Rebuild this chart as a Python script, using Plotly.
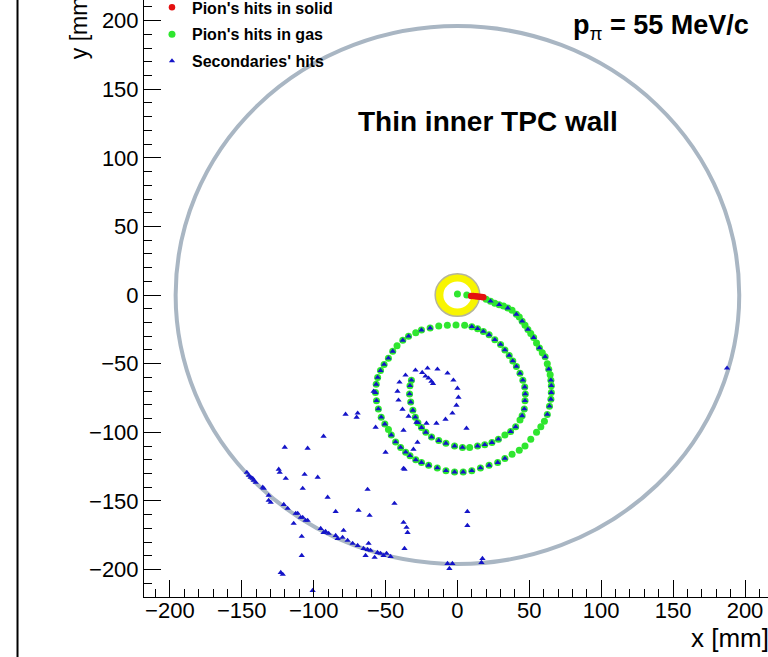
import plotly.graph_objects as go

# ---------------- data (mm) ----------------
# Pion's hits in solid (red)
solid_x = [9.5, 11.0, 12.5, 14.0, 15.5, 17.0, 18.0]
solid_y = [-0.6, -0.7, -0.8, -1.0, -1.2, -1.4, -1.6]

# Pion's hits in gas (green): vertex hit, then the spiralling track
gas_x = [0.0, 6.5,
         20, 23, 26, 29, 32, 35, 38, 41, 43, 45, 47, 49, 51, 53, 55, 57, 59, 61,
         62.5, 63.5, 64.5, 65, 65.3, 65.3, 65, 64, 62.5, 60.5, 58, 55, 51, 47, 43,
         38, 33, 28, 22, 16, 10, 4, -2, -8, -14, -20, -25, -29, -33, -36, -39.5,
         -43, -46, -48, -50.5, -53, -55, -56.3, -57, -56.5, -55.5, -53.5, -51, -48,
         -45, -42, -38, -34, -29, -25, -19, -13, -7, -1,
         5, 10, 14, 18, 22, 26, 30, 33, 36, 38.5, 41, 43.5, 45.5, 46.8, 47.2, 47,
         46.5, 45, 43.5, 40.5, 37, 33, 28.5, 24, 19, 14, 8.5, 3.5, -2, -8, -13,
         -18, -22, -25, -27.5, -29.3, -31, -32.5, -33.3, -33, -32]
gas_y = [0.7, 0.0,
         -3, -4.5, -6, -7, -8, -9.5, -11, -14, -16, -19, -22, -25, -28, -31, -35,
         -38.5, -42, -45,
         -50, -54, -58, -62, -66, -71, -76, -81, -87, -92, -96, -100, -105, -110,
         -113, -116, -119, -122, -124, -126, -128, -129, -129, -128, -126, -124,
         -122, -120, -117, -114.5, -111,
         -107, -102, -98, -94, -89, -83, -77, -71, -65, -60, -55, -50.5, -46,
         -41, -37, -33, -30, -27.5, -25.5, -24, -22.6, -22, -21.9,
         -22, -23, -24.5, -26.5, -29, -32.5, -36, -40, -44, -48, -52, -57, -62,
         -67, -72, -77,
         -83, -88, -91, -96, -99.5, -102, -105, -107.5, -109, -110, -111, -111,
         -110, -108, -106,
         -103.5, -100, -96.5, -93, -89, -84, -78, -72, -66, -62]

# Secondaries' hits (blue) lying on the pion track
sec_track_x = [23, 29, 35, 41, 45, 49, 53, 57, 61, 63.5, 65, 65.3, 65.3, 65, 64,
               62.5, 33, 28, 22, 16, 10, 4, -2, -8, -14, -20, -25, -29, -33, -36,
               -39.5, -43, -46, -50.5, -53, -55, -56.3, -57, -56.5, -55.5, -53.5,
               -51, -48, -45, -38, -34, -25, -19,
               10, 14, 18, 22, 26, 30, 33, 36, 38.5, 41, 43.5, 45.5, 46.8, 47.2, 47,
               46.5, 45, 40.5, 37, 28.5, 24, 19, 14, 3.5, -2, -8, -13, -18, -22,
               -25, -27.5, -29.3, -31, -32.5, -33.3, -33, -32]
sec_track_y = [-4.5, -7, -9.5, -14, -19, -25, -31, -38.5, -45, -54, -62, -66, -71,
               -76, -81, -87, -119, -122, -124, -126, -128, -129, -129, -128,
               -126, -124, -122, -120, -117, -114.5, -111, -107, -102, -94, -89,
               -83, -77, -71, -65, -60, -55, -50.5, -46, -41, -33, -30, -25.5, -24,
               -23, -24.5, -26.5, -29, -32.5, -36, -40, -44, -48, -52, -57, -62,
               -67, -72, -77, -83, -88, -96, -99.5, -105, -107.5, -109, -110,
               -111, -110, -108, -106, -103.5, -100, -96.5, -93, -89, -84, -78,
               -72, -66, -62]

# Secondaries' hits: small curling loop
sec_loop_x = [-20.8, -13.9, -6.9, -2.8, 0.0, 0.7, -0.7, -3.5, -8.3, -14.6, -21.5,
              -28.5, -34.0, -38.2, -41.0, -41.7, -40.3, -36.1, -29.2, -22.2,
              -20.1, -18.1, -17.0, -24.5]
sec_loop_y = [-53.3, -54.0, -56.9, -62.0, -67.9, -74.5, -80.3, -86.1, -90.5,
              -93.4, -93.4, -92.7, -88.3, -83.2, -76.6, -70.1, -63.5, -58.4,
              -54.7, -59.1, -60.6, -62.8, -64.5, -56.5]

# Secondaries' hits: scattered and along the outer wall
sec_scat_x = [-77.8, -69.4, -70.1, -58.3, -56.9, -37.5, -27.8, -50.0, -30.6, -36.8,
              -93.1, -120.1, -104.2, -124.3, -123.6, -119.4, -106.3, -97.2, -107.6,
              -62.5, -90.3, -84.7, -68.8, -61.1, -43.8, -37.5, -35.4, -34.7, -113.9,
              -108.3, -108.3, -122.9, -121.5, -36.8, -61.8, -100.7, 6.9, 6.9, -6.9,
              -3.5, -5.6, 16.7, 17.4, 187.5, 6.3, -37.5,
              -146.5, -145.1, -143.8, -142.4, -141.7, -140.3, -135.4, -134.7, -131.3,
              -131.3, -129.9, -120.8, -118.1, -112.5, -111.1, -109.0, -107.6, -105.6,
              -104.2, -95.1, -93.1, -91.7, -89.6, -84.7, -83.3, -79.2, -79.9, -76.4,
              -72.9, -69.4, -65.3, -63.9, -60.4, -57.6, -55.6, -51.4, -46.5, -53.5,
              -49.3, -62.5]
sec_scat_y = [-86.9, -86.1, -89.1, -70.1, -96.4, -98.5, -107.3, -114.6, -112.4,
              -127.0, -102.9, -110.9, -111.7, -127.0, -129.2, -133.6, -130.7, -132.8,
              -140.9, -141.6, -147.4, -157.7, -156.9, -160.6, -151.8, -165.7, -169.3,
              -173.0, -166.4, -175.9, -189.8, -202.2, -203.6, -184.7, -181.0, -215.3,
              -157.7, -167.9, -195.6, -195.6, -199.3, -194.9, -192.0, -53.3, -97.1,
              -126.3,
              -129.2, -131.4, -132.8, -133.6, -135.0, -136.5, -140.1, -140.9, -146.0,
              -149.6, -151.1, -152.6, -155.5, -159.1, -159.1, -162.0, -162.0, -164.2,
              -164.2, -170.1, -173.0, -172.3, -173.7, -175.2, -177.4, -171.5, -176.6,
              -178.8, -181.0, -182.5, -184.7, -189.8, -186.1, -191.2, -187.6, -189.8,
              -190.5, -188.3, -188.3, -185.4]

# detector geometry (mm)
tpc_wall_radius = 196
target_outer_radius = 15.5
target_inner_radius = 9.8

x_range = [-218, 216]
y_range = [-220, 215]
tick_vals = [-200, -150, -100, -50, 0, 50, 100, 150, 200]

FONT = "Liberation Sans, Arial, Helvetica, sans-serif"
GREEN = "#2fe62f"
BLUE = "#1414c8"
RED = "#e41010"

fig = go.Figure()

fig.add_trace(go.Scatter(x=gas_x, y=gas_y, mode="markers", name="Pion's hits in gas",
                         marker=dict(color=GREEN, size=7, symbol="circle"),
                         legendgroup="g", legendrank=2))
fig.add_trace(go.Scatter(x=solid_x, y=solid_y, mode="markers", name="Pion's hits in solid",
                         marker=dict(color=RED, size=6.5, symbol="circle"),
                         legendgroup="r", legendrank=1))
fig.add_trace(go.Scatter(x=sec_track_x, y=sec_track_y, mode="markers", showlegend=False,
                         marker=dict(color=BLUE, size=5.5, symbol="triangle-up"),
                         legendgroup="b"))
fig.add_trace(go.Scatter(x=sec_loop_x, y=sec_loop_y, mode="markers", showlegend=False,
                         marker=dict(color=BLUE, size=5.5, symbol="triangle-up"),
                         legendgroup="b"))
fig.add_trace(go.Scatter(x=sec_scat_x, y=sec_scat_y, mode="markers", name="Secondaries' hits",
                         marker=dict(color=BLUE, size=5.5, symbol="triangle-up"),
                         legendgroup="b", legendrank=3))

# TPC inner wall
fig.add_shape(type="circle", xref="x", yref="y", layer="below",
              x0=-tpc_wall_radius, x1=tpc_wall_radius, y0=-tpc_wall_radius, y1=tpc_wall_radius,
              line=dict(color="#a9b6c3", width=4))
# target
fig.add_shape(type="circle", xref="x", yref="y", layer="below",
              x0=-target_outer_radius, x1=target_outer_radius,
              y0=-target_outer_radius, y1=target_outer_radius,
              line=dict(color="#b5b59a", width=1.5), fillcolor="#f8f500")
fig.add_shape(type="circle", xref="x", yref="y", layer="below",
              x0=-target_inner_radius, x1=target_inner_radius,
              y0=-target_inner_radius, y1=target_inner_radius,
              line=dict(color="white", width=0), fillcolor="white")
# canvas border line on the left
fig.add_shape(type="line", xref="paper", yref="paper", x0=-0.2027, x1=-0.2027,
              y0=-0.12, y1=1.02, line=dict(color="black", width=2))

axis_common = dict(showline=True, linecolor="black", linewidth=1, mirror=False,
                   ticks="inside", ticklen=17, tickwidth=1, tickcolor="black",
                   tickvals=tick_vals, showgrid=False, zeroline=False,
                   tickfont=dict(family=FONT, size=22, color="black"),
                   minor=dict(ticks="inside", ticklen=8, dtick=10, tick0=0,
                              tickcolor="black", tickwidth=1, showgrid=False))

fig.update_xaxes(range=x_range, ticklabelstandoff=-6, **axis_common)
fig.update_yaxes(range=y_range, **axis_common)

fig.add_annotation(xref="paper", yref="paper", x=0.8735, y=-0.068, xanchor="left",
                   yanchor="middle", text="x [mm]", showarrow=False,
                   font=dict(family=FONT, size=26, color="black"))
fig.add_annotation(xref="paper", yref="paper", x=-0.104, y=0.958, xanchor="center",
                   yanchor="middle", text="y [mm]", textangle=-90, showarrow=False,
                   font=dict(family=FONT, size=23, color="black"))
fig.add_annotation(xref="paper", yref="paper", x=0.552, y=0.797, xanchor="center",
                   yanchor="middle", text="<b>Thin inner TPC wall</b>", showarrow=False,
                   font=dict(family=FONT, size=28, color="black"))
fig.add_annotation(xref="paper", yref="paper", x=0.684, y=0.955, xanchor="left",
                   yanchor="middle", text="<b>p</b><sub>π</sub><b> = 55 MeV/c</b>",
                   showarrow=False, font=dict(family=FONT, size=27, color="black"))

fig.update_layout(
    width=768, height=657,
    margin=dict(l=144, r=0, t=0, b=60, autoexpand=False),
    paper_bgcolor="white", plot_bgcolor="white",
    showlegend=True,
    legend=dict(x=0.0128, y=1.016, xanchor="left", yanchor="top",
                bgcolor="rgba(0,0,0,0)", borderwidth=0, tracegroupgap=3,
                font=dict(family=FONT, size=16, color="black", weight="bold")),
    font=dict(family=FONT),
)

fig.write_html("out.html")
